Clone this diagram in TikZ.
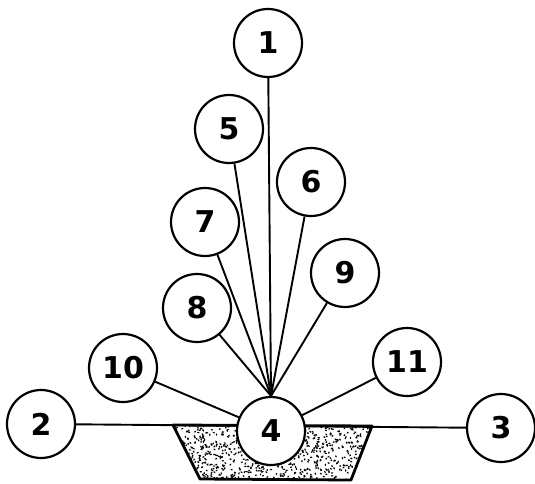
\documentclass[tikz,border=0pt]{standalone}
\usepackage{fontspec}
\newfontfamily\numfont{DejaVu Sans}

\begin{document}
\begin{tikzpicture}[
    x=1pt, y=-1pt,
    num/.style={
        circle, draw=black, fill=white, line width=2.2pt,
        minimum size=68pt, inner sep=0pt,
        font=\numfont\bfseries\fontsize{30}{30}\selectfont
    },
    stem/.style={black, line width=1.9pt},
    bed/.style={draw=black, line width=2.8pt, line join=round}
]
\useasboundingbox (0,0) rectangle (535,484);

% ===== Ground line and planting bed =====
\coordinate (gl) at (41,424);
\coordinate (gr) at (501,428);
\draw[stem] (gl) -- (gr);
\begin{scope}
    \clip (173,425) -- (372,426) -- (351,480) -- (200,479) -- cycle;
    \pgfmathsetseed{7}
    % stippled soil
    \foreach \k in {1,...,900} {
        \pgfmathsetmacro{\px}{173+200*rnd}
        \pgfmathsetmacro{\py}{425+56*rnd}
        \pgfmathsetmacro{\pa}{180*rnd}
        \fill[black, rotate around={\pa:(\px,\py)}] (\px,\py) ellipse (1.3pt and 0.8pt);
    }
\end{scope}
\draw[bed] (173,425) -- (372,426) -- (351,480) -- (200,479) -- cycle;

% ===== Centre and side circles =====
\node[num] (n4) at (271,431) {4};
\node[num] (n2) at (41,424) {2};
\node[num] (n3) at (501,428) {3};

% ===== Fan of circles =====
\node[num] (n1) at (268,43) {1};
\node[num] (n5) at (229,129) {5};
\node[num] (n6) at (311,182) {6};
\node[num] (n7) at (205,222) {7};
\node[num] (n9) at (345,273) {9};
\node[num] (n8) at (197,308) {8};
\node[num] (n10) at (123,368) {10};
\node[num] (n11) at (407,362) {11};

% Stems to the top of the centre circle
\foreach \i in {n1, n5, n6, n7, n8, n9} {
    \draw[stem] (\i) -- (n4.north);
}
\draw[stem] (n10) -- (n4);
\draw[stem] (n11) -- (n4);

\end{tikzpicture}
\end{document}
